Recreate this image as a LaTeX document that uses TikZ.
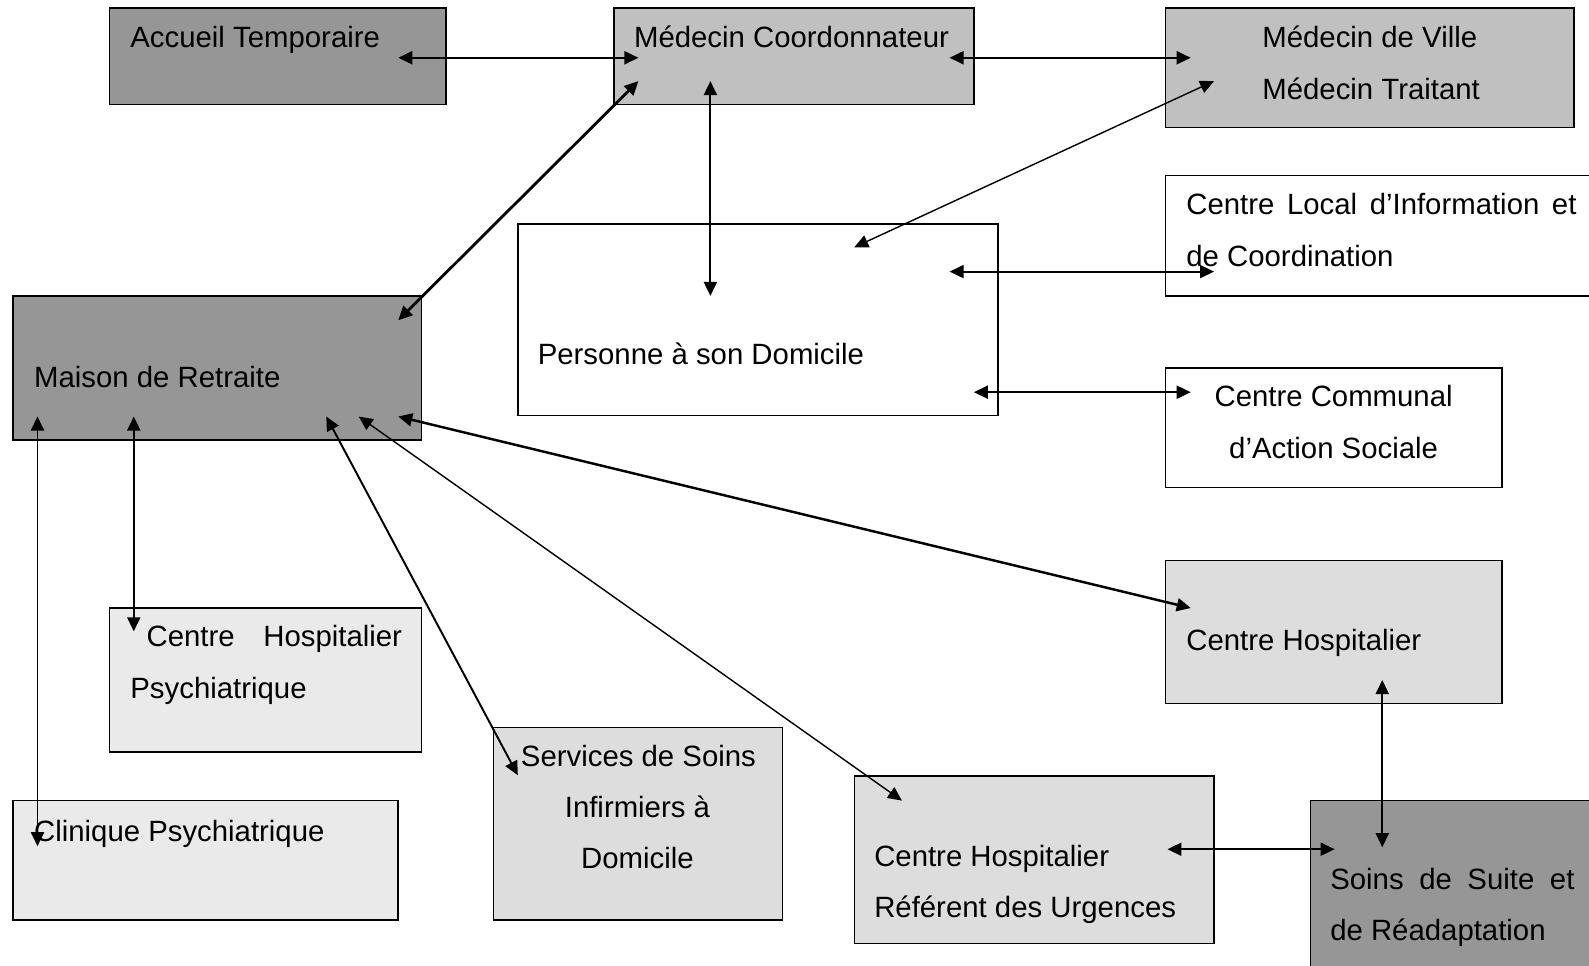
\documentclass[tikz,border=0pt]{standalone}
\usepackage{fontspec}
\setmainfont{Liberation Sans}
\usetikzlibrary{arrows.meta,fit}
\definecolor{grisfonce}{RGB}{150,150,150}
\definecolor{grismoyen}{RGB}{192,192,192}
\definecolor{grisclair}{RGB}{221,221,221}
\definecolor{grispale}{RGB}{234,234,234}
\newlength{\upx}
\setlength{\upx}{0.10134mm}
\begin{document}
\begin{tikzpicture}[x=0.10134mm,y=-0.10134mm,
  boite/.style={draw, line width=0.45pt, inner sep=0pt},
  texte/.style={inner sep=0pt, anchor=base west, font=\fontsize{8.35}{10}\selectfont},
  lien/.style={line width=0.55pt, {Triangle[length=1.4mm,width=1.3mm]}-{Triangle[length=1.4mm,width=1.3mm]}}]
\useasboundingbox (0,0) rectangle (1568,953);
\clip (0,0) rectangle (1568,953);

% les boites
\node[boite, fill=grisfonce, fit={(108,8) (440,103)}] (1) {};
\node[boite, fill=grismoyen, fit={(606,8) (961,103)}] (2) {};
\node[boite, fill=grismoyen, fit={(1150,8) (1553,126)}] (3) {};
\node[boite, fill=white, fit={(1150,173) (1600,292)}] (4) {};
\node[boite, fill=white, fit={(511,221) (985,410)}] (5) {};
\node[boite, fill=grisfonce, fit={(13,292) (416,434)}] (6) {};
\node[boite, fill=white, fit={(1150,363) (1482,481)}] (7) {};
\node[boite, fill=grisclair, fit={(1150,553) (1482,694)}] (8) {};
\node[boite, fill=grispale, fit={(108,600) (416,742)}] (9) {};
\node[boite, fill=grispale, fit={(13,790) (393,908)}] (10) {};
\node[boite, fill=grisclair, fit={(487,718) (772,908)}] (11) {};
\node[boite, fill=grisclair, fit={(843,766) (1198,931)}] (12) {};
\node[boite, fill=grisfonce, fit={(1293,790) (1600,990)}] (13) {};

% les textes
\node[texte] (t1) at (128,47) {Accueil Temporaire};
\node[texte] (t2) at (625,47) {Médecin Coordonnateur};
\node[texte] (t3a) at (1245,47) {Médecin de Ville};
\node[texte] (t3b) at (1245,98) {Médecin Traitant};
\node[texte] (t4a) at (1170,212) {\makebox[385\upx][s]{Centre Local d’Information et}};
\node[texte] (t4b) at (1170,263) {de Coordination};
\node[texte] (t5) at (530,360) {Personne à son Domicile};
\node[texte] (t6) at (33,382) {Maison de Retraite};
\node[texte, anchor=base] (t7a) at (1316,401) {Centre Communal};
\node[texte, anchor=base] (t7b) at (1316,452) {d’Action Sociale};
\node[texte] (t8) at (1170,642) {Centre Hospitalier};
\node[texte] (t9a) at (144,638) {\makebox[252\upx][s]{Centre Hospitalier}};
\node[texte] (t9b) at (128,689) {Psychiatrique};
\node[texte] (t10) at (33,830) {Clinique Psychiatrique};
\node[texte, anchor=base] (t11a) at (630,756) {Services de Soins};
\node[texte, anchor=base] (t11b) at (629,807) {Infirmiers à};
\node[texte, anchor=base] (t11c) at (629,857) {Domicile};
\node[texte] (t12a) at (862,855) {Centre Hospitalier};
\node[texte] (t12b) at (862,905) {Référent des Urgences};
\node[texte] (t13a) at (1312,878) {\makebox[241\upx][s]{Soins de Suite et}};
\node[texte] (t13b) at (1312,928) {de Réadaptation};

% bouts des fleches
\coordinate (p1) at (393,57);
\coordinate (p2) at (630,57);
\coordinate (p3) at (937,57);
\coordinate (p4) at (1175,57);
\coordinate (p5) at (701,80);
\coordinate (p6) at (701,292);
\coordinate (p7) at (630,80);
\coordinate (p8) at (393,316);
\coordinate (p9) at (1198,80);
\coordinate (p10) at (843,244);
\coordinate (p11) at (937,268);
\coordinate (p12) at (1198,268);
\coordinate (p13) at (961,387);
\coordinate (p14) at (1175,387);
\coordinate (p15) at (393,411);
\coordinate (p16) at (1175,600);
\coordinate (p17) at (132,411);
\coordinate (p18) at (132,623);
\coordinate (p19) at (37,411);
\coordinate (p20) at (37,835);
\coordinate (p21) at (322,411);
\coordinate (p22) at (511,765);
\coordinate (p23) at (354,411);
\coordinate (p24) at (890,790);
\coordinate (p25) at (1152,838);
\coordinate (p26) at (1317,838);
\coordinate (p27) at (1364,671);
\coordinate (p28) at (1364,836);

\draw[lien] (p1) -- (p2);
\draw[lien] (p3) -- (p4);
\draw[lien] (p5) -- (p6);
\draw[lien, line width=0.8pt] (p7) -- (p8);
\draw[lien, line width=0.4pt] (p9) -- (p10);
\draw[lien] (p11) -- (p12);
\draw[lien] (p13) -- (p14);
\draw[lien, line width=0.7pt] (p15) -- (p16);
\draw[lien] (p17) -- (p18);
\draw[lien] (p19) -- (p20);
\draw[lien] (p21) -- (p22);
\draw[lien, line width=0.4pt] (p23) -- (p24);
\draw[lien] (p25) -- (p26);
\draw[lien] (p27) -- (p28);
\end{tikzpicture}
\end{document}
